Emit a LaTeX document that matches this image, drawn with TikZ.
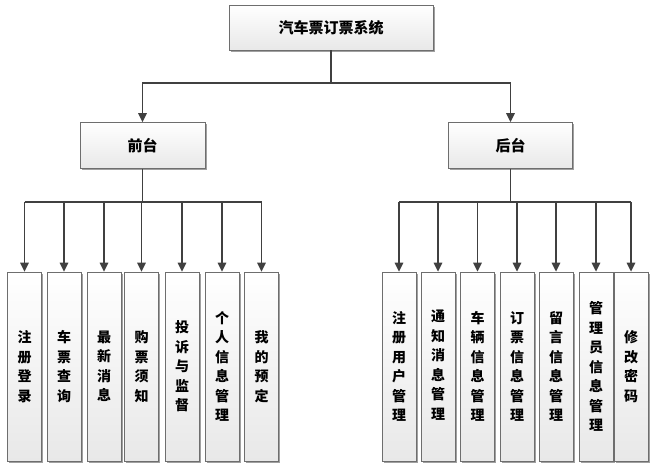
\documentclass[tikz,border=0pt]{standalone}
\usepackage{fontspec}
\newfontfamily\cjk{Noto Sans CJK SC}
\usetikzlibrary{arrows.meta,shadows}
\definecolor{edge}{HTML}{6E6E6E}
\definecolor{linec}{HTML}{404040}
\definecolor{shade}{HTML}{A0A0A0}
\tikzset{
  box/.style={draw=edge, line width=0.8pt, top color=white, bottom color=black!9,
    inner sep=0pt, align=center, text=black,
    drop shadow={shadow xshift=1.8pt, shadow yshift=-1.8pt, fill=shade, opacity=1}},
  bigbox/.style={box, font=\cjk\bfseries\fontsize{15}{18}\selectfont},
  colbox/.style={box, minimum width=34pt, minimum height=189pt,
    font=\cjk\bfseries\fontsize{14}{19.5}\selectfont},
  conn/.style={draw=linec, line width=1.6pt},
  arr/.style={conn, -{Triangle[length=9pt,width=8.5pt]}}
}
\begin{document}
\begin{tikzpicture}[x=1pt,y=-1pt]
\useasboundingbox (0,0) rectangle (656,465);
% top levels
\node[bigbox, minimum width=204pt, minimum height=45pt] (top) at (331,27.5) {汽车票订票系统};
\node[bigbox, minimum width=125pt, minimum height=46pt] (qt) at (142.5,145.5) {前台};
\node[bigbox, minimum width=124pt, minimum height=46pt] (ht) at (510.5,145.5) {后台};
\coordinate (hy) at (0,83);
\coordinate (ly) at (0,202);
% left columns
\node[colbox] (a1) at (24.5,366.5) {注\\册\\登\\录};
\node[colbox] (a2) at (64,366.5) {车\\票\\查\\询};
\node[colbox] (a3) at (104,366.5) {最\\新\\消\\息};
\node[colbox] (a4) at (141.5,366.5) {购\\票\\须\\知};
\node[colbox] (a5) at (182,366.5) {投\\诉\\与\\监\\督};
\node[colbox] (a6) at (222,366.5) {个\\人\\信\\息\\管\\理};
\node[colbox] (a7) at (261.5,366.5) {我\\的\\预\\定};
% right columns
\node[colbox] (b1) at (399,366.5) {注\\册\\用\\户\\管\\理};
\node[colbox] (b2) at (438,366.5) {\raisebox{-10pt}{\begin{tabular}{@{}c@{}}通\\知\\消\\息\\管\\理\end{tabular}}};
\node[colbox] (b3) at (477.5,366.5) {车\\辆\\信\\息\\管\\理};
\node[colbox] (b4) at (517,366.5) {订\\票\\信\\息\\管\\理};
\node[colbox] (b5) at (556,366.5) {留\\言\\信\\息\\管\\理};
\node[colbox] (b6) at (596,366.5) {管\\理\\员\\信\\息\\管\\理};
\node[colbox] (b7) at (631,366.5) {修\\改\\密\\码};
% connectors top
\draw[conn] (top.south) -- (top.south |- hy);
\draw[arr] (top.south |- hy) -| (qt.north);
\draw[arr] (top.south |- hy) -| (ht.north);
% connectors left
\draw[conn] (qt.south) -- (qt.south |- ly);
\draw[conn] (a1.north |- ly) -- (a7.north |- ly);
\foreach \n in {a1,a2,a3,a4,a5,a6,a7} \draw[arr] (\n.north |- ly) -- (\n.north);
% connectors right
\draw[conn] (ht.south) -- (ht.south |- ly);
\draw[conn] (b1.north |- ly) -- (b7.north |- ly);
\foreach \n in {b1,b2,b3,b4,b5,b6,b7} \draw[arr] (\n.north |- ly) -- (\n.north);
\end{tikzpicture}
\end{document}
